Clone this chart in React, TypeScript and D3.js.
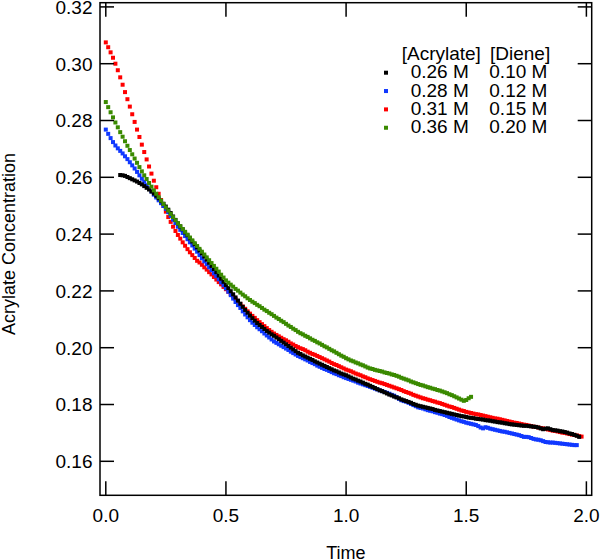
import React from "react";
import * as d3 from "d3";

// ---- data (concentration values in units of 1e-4 M, sampled every 0.01 time units) ----
const STEP = 0.01;
const SCALE = 1e-4;

const redStart = 0.0;
const redValues = [
  3075, 3058, 3040, 3021, 3000, 2977, 2952, 2926, 2900, 2875, 2849, 2822, 2795, 2768, 2742, 2715, 2689, 2663, 2638, 2613,
  2588, 2565, 2542, 2520, 2499, 2479, 2460, 2443, 2426, 2411, 2397, 2384, 2371, 2359, 2347, 2336, 2326, 2316, 2306, 2300,
  2292, 2283, 2275, 2266, 2258, 2249, 2240, 2231, 2223, 2214, 2206, 2197, 2189, 2180, 2171, 2162, 2154, 2145, 2137, 2128,
  2120, 2112, 2105, 2097, 2090, 2083, 2076, 2069, 2062, 2056, 2050, 2045, 2040, 2035, 2030, 2026, 2021, 2015, 2011, 2006,
  2002, 1998, 1995, 1991, 1986, 1982, 1978, 1975, 1971, 1967, 1963, 1959, 1955, 1951, 1946, 1942, 1939, 1935, 1931, 1927,
  1923, 1920, 1917, 1913, 1909, 1906, 1903, 1899, 1896, 1892, 1889, 1886, 1883, 1880, 1877, 1875, 1872, 1869, 1866, 1863,
  1860, 1857, 1854, 1851, 1847, 1844, 1841, 1838, 1834, 1831, 1828, 1825, 1822, 1820, 1817, 1815, 1812, 1810, 1807, 1805,
  1802, 1799, 1796, 1793, 1791, 1788, 1785, 1782, 1779, 1777, 1774, 1772, 1770, 1768, 1766, 1765, 1763, 1761, 1759, 1757,
  1755, 1753, 1751, 1750, 1748, 1746, 1744, 1742, 1740, 1738, 1736, 1735, 1733, 1731, 1729, 1728, 1726, 1724, 1722, 1721,
  1719, 1717, 1716, 1714, 1712, 1710, 1708, 1707, 1705, 1703, 1701, 1700, 1698, 1696, 1694, 1693, 1691, 1689, 1687,
];

const blackStart = 0.06;
const blackValues = [
  2608, 2607, 2605, 2601, 2597, 2593, 2589, 2585, 2580, 2575, 2569, 2563, 2557, 2550, 2543, 2535, 2526, 2516, 2507,
  2497, 2486, 2474, 2462, 2450, 2438, 2427, 2417, 2406, 2396, 2385, 2374, 2364, 2353, 2342, 2332, 2321, 2310, 2299, 2288,
  2277, 2266, 2254, 2243, 2232, 2221, 2210, 2199, 2188, 2177, 2166, 2155, 2144, 2133, 2123, 2113, 2104, 2095, 2087, 2080,
  2073, 2066, 2059, 2053, 2047, 2042, 2036, 2030, 2024, 2018, 2012, 2006, 2000, 1994, 1988, 1982, 1978, 1973, 1969, 1965,
  1961, 1957, 1952, 1948, 1944, 1940, 1936, 1932, 1928, 1924, 1920, 1917, 1913, 1909, 1906, 1903, 1899, 1895, 1891, 1888,
  1884, 1881, 1877, 1873, 1870, 1866, 1862, 1858, 1854, 1850, 1847, 1843, 1839, 1835, 1832, 1828, 1825, 1822, 1818, 1815,
  1812, 1809, 1806, 1802, 1799, 1796, 1794, 1792, 1790, 1788, 1786, 1784, 1781, 1779, 1777, 1775, 1773, 1771, 1769, 1767,
  1765, 1763, 1761, 1759, 1758, 1756, 1754, 1753, 1752, 1750, 1749, 1748, 1747, 1745, 1744, 1743, 1741, 1740, 1738, 1737,
  1736, 1734, 1733, 1731, 1730, 1729, 1728, 1727, 1726, 1725, 1725, 1724, 1723, 1722, 1721, 1719, 1716, 1713, 1715, 1716,
  1713, 1710, 1709, 1708, 1706, 1705, 1703, 1701, 1698, 1696, 1693, 1690, 1686,
];

const blueStart = 0.0;
const blueValues = [
  2768, 2753, 2738, 2724, 2712, 2702, 2693, 2684, 2674, 2664, 2653, 2642, 2631, 2619, 2607, 2595, 2584, 2572, 2561, 2550,
  2539, 2529, 2519, 2509, 2499, 2489, 2477, 2464, 2451, 2439, 2426, 2415, 2404, 2393, 2382, 2371, 2360, 2349, 2338, 2326,
  2315, 2304, 2294, 2283, 2273, 2262, 2252, 2241, 2230, 2220, 2209, 2197, 2185, 2173, 2161, 2150, 2140, 2128, 2117, 2107,
  2097, 2088, 2080, 2072, 2065, 2058, 2050, 2043, 2036, 2029, 2022, 2017, 2012, 2007, 2002, 1997, 1992, 1986, 1981, 1976,
  1971, 1967, 1963, 1959, 1955, 1950, 1946, 1942, 1937, 1933, 1929, 1925, 1922, 1918, 1914, 1910, 1907, 1903, 1900, 1896,
  1893, 1890, 1887, 1884, 1881, 1877, 1874, 1871, 1868, 1865, 1862, 1859, 1856, 1853, 1850, 1847, 1844, 1841, 1838, 1834,
  1831, 1826, 1820, 1815, 1812, 1810, 1806, 1802, 1798, 1794, 1790, 1788, 1786, 1783, 1780, 1778, 1776, 1773, 1771, 1768,
  1766, 1763, 1760, 1756, 1753, 1750, 1747, 1744, 1741, 1739, 1736, 1734, 1732, 1730, 1728, 1724, 1719, 1716, 1720, 1718,
  1715, 1713, 1711, 1709, 1707, 1705, 1704, 1702, 1700, 1698, 1696, 1694, 1692, 1689, 1686, 1686, 1685, 1682, 1679, 1677,
  1676, 1674, 1671, 1668, 1667, 1666, 1666, 1665, 1664, 1663, 1662, 1661, 1660, 1659, 1658, 1657, 1657,
];

const greenStart = 0.0;
const greenValues = [
  2865, 2847, 2829, 2811, 2793, 2776, 2759, 2743, 2727, 2711, 2696, 2681, 2666, 2651, 2636, 2621, 2607, 2594, 2580, 2567,
  2554, 2542, 2530, 2518, 2506, 2494, 2483, 2471, 2460, 2449, 2438, 2428, 2418, 2408, 2398, 2388, 2378, 2368, 2358, 2348,
  2338, 2328, 2318, 2308, 2298, 2288, 2278, 2268, 2257, 2247, 2237, 2229, 2222, 2215, 2207, 2201, 2194, 2187, 2181, 2174,
  2168, 2162, 2157, 2151, 2146, 2140, 2134, 2129, 2123, 2118, 2112, 2106, 2101, 2095, 2090, 2084, 2078, 2073, 2067, 2062,
  2056, 2051, 2047, 2042, 2038, 2033, 2028, 2024, 2019, 2015, 2010, 2005, 2001, 1996, 1991, 1987, 1982, 1977, 1972, 1968,
  1963, 1959, 1955, 1952, 1948, 1945, 1941, 1938, 1934, 1930, 1927, 1925, 1922, 1920, 1918, 1916, 1913, 1911, 1909, 1906,
  1904, 1901, 1898, 1894, 1891, 1888, 1885, 1881, 1878, 1875, 1872, 1869, 1867, 1864, 1861, 1859, 1856, 1854, 1851, 1849,
  1846, 1843, 1840, 1836, 1833, 1829, 1825, 1821, 1817, 1813, 1816, 1822, 1827,
];

const xTickValues = [0, 0.5, 1.0, 1.5, 2.0];
const xTickLabels = ["0.0", "0.5", "1.0", "1.5", "2.0"];
const yTickValues = [0.16, 0.18, 0.2, 0.22, 0.24, 0.26, 0.28, 0.3, 0.32];
const yTickLabels = ["0.16", "0.18", "0.20", "0.22", "0.24", "0.26", "0.28", "0.30", "0.32"];

const legendHeader = ["[Acrylate]", "[Diene]"];
const legendAcrylate = ["0.26 M", "0.28 M", "0.31 M", "0.36 M"];
const legendDiene = ["0.10 M", "0.12 M", "0.15 M", "0.20 M"];
const legendColors = ["#000000", "#1038ff", "#ff0000", "#3a8a00"];

const xAxisTitle = "Time";
const yAxisTitle = "Acrylate Concentration";

// ---- layout ----
const W = 600;
const H = 560;
const L = 100;
const R = 591.7;
const T = 2.7;
const B = 495.3;
const FONT = "'Liberation Sans', Arial, Helvetica, sans-serif";

const xScale = d3.scaleLinear().domain([-0.0241, 2.0221]).range([L, R]);
const yScale = d3.scaleLinear().domain([0.14803, 0.32148]).range([B, T]);

type Pt = { t: number; v: number };
function toPoints(start: number, values: number[]): Pt[] {
  return values.map((val, i) => ({ t: start + i * STEP, v: val * SCALE }));
}

const series = [
  { color: legendColors[2], pts: toPoints(redStart, redValues) },
  { color: legendColors[1], pts: toPoints(blueStart, blueValues) },
  { color: legendColors[0], pts: toPoints(blackStart, blackValues) },
  { color: legendColors[3], pts: toPoints(greenStart, greenValues) },
];

const MS = 4; // marker size
const TICK = 14;

export default function App() {
  return (
    <svg
      width={W}
      height={H}
      viewBox={`0 0 ${W} ${H}`}
      style={{ position: "absolute", left: 0, top: 0, background: "#fff" }}
      fontFamily={FONT}
    >
      <rect x={0} y={0} width={W} height={H} fill="#fff" />
      {/* data markers */}
      {series.map((s, si) => (
        <g key={si} fill={s.color}>
          {s.pts.map((p, i) => (
            <rect key={i} x={xScale(p.t) - MS / 2} y={yScale(p.v) - MS / 2} width={MS} height={MS} />
          ))}
        </g>
      ))}
      {/* frame */}
      <rect x={L} y={T} width={R - L} height={B - T} fill="none" stroke="#000" strokeWidth={1.5} />
      {/* x ticks bottom & top */}
      {xTickValues.map((v, i) => (
        <g key={"x" + i} stroke="#000" strokeWidth={1.5}>
          <line x1={xScale(v)} x2={xScale(v)} y1={B} y2={B - TICK} />
          <line x1={xScale(v)} x2={xScale(v)} y1={T} y2={T + TICK} />
        </g>
      ))}
      {xTickValues.map((v, i) => (
        <text key={"xl" + i} x={xScale(v)} y={522} fontSize={19} textAnchor="middle" fill="#000">
          {xTickLabels[i]}
        </text>
      ))}
      {/* y ticks left & right */}
      {yTickValues.map((v, i) => (
        <g key={"y" + i} stroke="#000" strokeWidth={1.5}>
          <line x1={L} x2={L + TICK} y1={yScale(v)} y2={yScale(v)} />
          <line x1={R} x2={R - TICK} y1={yScale(v)} y2={yScale(v)} />
        </g>
      ))}
      {yTickValues.map((v, i) => (
        <text key={"yl" + i} x={92.5} y={yScale(v)} dy="0.36em" fontSize={19} textAnchor="end" fill="#000">
          {yTickLabels[i]}
        </text>
      ))}
      {/* axis titles */}
      <text x={(L + R) / 2} y={558.5} fontSize={18} textAnchor="middle" fill="#000">
        {xAxisTitle}
      </text>
      <text
        transform={`translate(14.5, ${244}) rotate(-90)`}
        fontSize={18}
        textAnchor="middle"
        fill="#000"
      >
        {yAxisTitle}
      </text>
      {/* legend */}
      <text x={401.7} y={59.5} fontSize={19} fill="#000">
        {legendHeader[0]}
      </text>
      <text x={490} y={59.5} fontSize={19} fill="#000">
        {legendHeader[1]}
      </text>
      {legendAcrylate.map((a, i) => {
        const base = 78.3 + i * 18.35;
        return (
          <g key={"lg" + i}>
            <rect x={386 - 2} y={base - 5.6 - 2} width={4} height={4} fill={legendColors[i]} />
            <text x={410.7} y={base} fontSize={19} fill="#000">
              {a}
            </text>
            <text x={489.3} y={base} fontSize={19} fill="#000">
              {legendDiene[i]}
            </text>
          </g>
        );
      })}
    </svg>
  );
}
